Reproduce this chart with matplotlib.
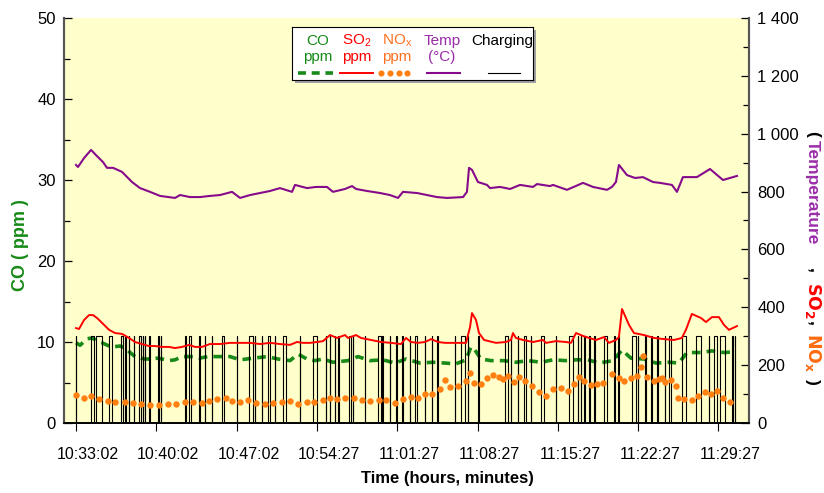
import numpy as np
import matplotlib.pyplot as plt
from matplotlib.patches import Rectangle
from matplotlib.transforms import ScaledTranslation
from matplotlib.ticker import MultipleLocator, FuncFormatter

plt.rcParams['font.family'] = ['Liberation Sans', 'DejaVu Sans']

# time axis in minutes from 10:33:02, one tick every 7 minutes
tick_labels = ['10:33:02', '10:40:02', '10:47:02', '10:54:27', '11:01:27',
               '11:08:27', '11:15:27', '11:22:27', '11:29:27']

# temperature (deg C, right axis)
temp_t = [0.00, 0.17, 0.70, 1.31, 1.74, 2.35, 2.70, 3.23, 4.01, 4.88, 5.58, 6.45, 7.32, 8.63, 9.07,
          9.94, 10.81, 11.68, 12.55, 13.60, 14.30, 15.17, 16.04, 16.91, 17.78, 18.83, 19.09, 20.14,
          20.92, 21.88, 22.40, 23.45, 24.06, 24.41, 25.37, 26.50, 27.37, 28.07, 28.50, 29.73, 30.60,
          31.47, 32.34, 33.74, 34.08, 34.26, 34.52, 35.04, 35.83, 36.09, 36.96, 37.84, 38.71, 39.84,
          40.19, 41.32, 41.58, 42.80, 44.20, 45.07, 46.29, 46.72, 47.07, 47.33, 48.03, 48.73, 49.42,
          50.30, 50.91, 51.95, 52.39, 52.91, 54.13, 55.27, 56.40, 57.01, 57.62]
temp_c = [892, 885, 916, 944, 926, 902, 882, 882, 868, 833, 812, 799, 785, 778, 788, 781, 781, 785,
          788, 799, 778, 788, 795, 802, 812, 799, 823, 812, 816, 816, 799, 809, 819, 809, 802, 795,
          788, 778, 799, 795, 788, 781, 778, 781, 799, 882, 875, 833, 823, 812, 816, 809, 823, 816,
          826, 819, 823, 806, 830, 816, 806, 816, 833, 892, 857, 847, 850, 833, 830, 823, 799, 850,
          850, 878, 840, 847, 854]

# SO2 (ppm, right axis)
so2_t = [0.00, 0.26, 0.70, 1.13, 1.48, 1.83, 2.27, 2.88, 3.40, 4.01, 4.62, 5.14, 5.75, 6.36, 6.89,
         7.50, 8.11, 8.63, 9.24, 9.85, 10.37, 10.98, 11.68, 12.55, 13.42, 14.30, 15.17, 16.04, 16.91,
         17.78, 18.65, 19.26, 19.79, 20.40, 21.01, 21.53, 22.14, 22.75, 23.45, 23.71, 24.41, 24.84,
         25.72, 26.59, 27.46, 28.33, 28.77, 29.20, 29.81, 30.42, 30.95, 31.56, 32.17, 33.04, 34.00,
         34.35, 34.52, 34.87, 35.13, 35.57, 36.61, 37.48, 37.92, 38.09, 38.35, 38.97, 39.84, 40.71,
         40.97, 41.84, 42.71, 43.15, 43.59, 44.20, 44.72, 45.33, 46.03, 46.46, 47.07, 47.33, 47.60,
         48.21, 48.64, 49.52, 50.39, 51.26, 52.13, 52.82, 53.17, 53.69, 54.48, 54.92, 55.44, 56.05,
         56.49, 56.92, 57.62]
so2_ppm = [328, 325, 356, 373, 373, 363, 346, 322, 311, 308, 294, 280, 273, 266, 266, 263, 263, 259,
           263, 270, 263, 263, 273, 273, 277, 277, 277, 273, 277, 273, 270, 280, 277, 277, 280, 283,
           304, 294, 304, 294, 304, 294, 287, 280, 277, 273, 294, 280, 277, 280, 290, 280, 277, 277,
           277, 332, 380, 356, 311, 287, 277, 280, 287, 311, 294, 287, 280, 287, 277, 283, 280, 277,
           311, 301, 294, 287, 297, 277, 287, 297, 394, 339, 311, 304, 294, 290, 287, 294, 322, 377,
           363, 349, 366, 366, 339, 322, 335]

# CO (ppm, left axis)
co_t = [0.00, 0.35, 0.96, 1.39, 2.00, 2.27, 2.88, 3.14, 3.84, 4.27, 4.71, 5.14, 5.93, 6.36, 7.06,
        7.50, 8.11, 8.63, 9.24, 9.94, 10.72, 11.51, 12.38, 13.42, 14.30, 15.43, 16.65, 17.61, 18.65,
        19.35, 20.14, 20.83, 21.53, 22.40, 23.71, 24.58, 25.63, 26.76, 27.81, 28.77, 29.99, 31.12,
        32.17, 33.12, 34.00, 34.43, 34.78, 35.30, 36.18, 37.31, 38.35, 39.40, 40.53, 41.58, 42.71,
        43.59, 44.63, 45.59, 46.81, 47.60, 48.38, 49.52, 50.56, 51.69, 52.56, 53.26, 54.48, 55.44,
        56.49, 57.53]
co_ppm = [9.9, 9.6, 10.4, 10.5, 10.0, 9.9, 9.5, 9.4, 9.5, 9.3, 8.7, 8.2, 7.9, 7.9, 8.0, 7.9, 7.7,
          7.8, 8.2, 8.2, 8.0, 8.2, 8.2, 8.2, 7.8, 8.0, 8.2, 7.9, 7.7, 8.5, 7.9, 7.7, 7.9, 7.5, 7.7,
          8.2, 7.7, 7.8, 7.4, 7.9, 7.4, 7.5, 7.4, 7.3, 7.8, 9.4, 9.0, 7.9, 7.7, 7.7, 7.5, 7.7, 7.5,
          7.8, 7.7, 7.8, 7.8, 7.4, 7.7, 9.0, 8.0, 7.9, 7.4, 7.5, 7.4, 8.7, 8.7, 8.9, 8.7, 8.8]

# NOx (ppm, right axis)
nox_t = [0.00, 0.70, 1.31, 2.00, 2.79, 3.40, 4.27, 4.97, 5.67, 6.45, 7.24, 8.02, 8.72, 9.50, 10.20,
         10.98, 11.59, 12.29, 13.08, 13.60, 14.30, 14.99, 15.69, 16.48, 17.17, 17.96, 18.65, 19.35,
         20.14, 20.75, 21.53, 22.14, 22.75, 23.45, 24.23, 24.93, 25.63, 26.41, 27.02, 27.81, 28.50,
         29.20, 29.81, 30.42, 31.03, 31.73, 32.17, 32.60, 33.30, 34.00, 34.35, 34.69, 35.30, 35.83,
         36.35, 36.87, 37.22, 37.66, 38.18, 38.62, 39.14, 39.75, 40.36, 40.97, 41.58, 42.28, 42.89,
         43.41, 43.85, 44.28, 44.89, 45.42, 45.94, 46.72, 47.33, 47.77, 48.38, 48.90, 49.25, 49.42,
         49.77, 50.39, 50.82, 51.08, 51.34, 51.87, 52.30, 52.48, 53.00, 53.69, 54.22, 54.83, 55.35,
         55.88, 56.40, 57.01]
nox_ppm = [97, 86, 93, 83, 76, 73, 73, 69, 66, 62, 62, 66, 66, 73, 73, 69, 76, 83, 86, 76, 73, 80,
           69, 66, 69, 73, 76, 66, 73, 73, 80, 86, 83, 86, 86, 80, 76, 80, 80, 69, 83, 90, 86, 100,
           100, 118, 149, 124, 128, 145, 173, 138, 135, 156, 166, 159, 152, 162, 142, 159, 145, 128,
           107, 93, 118, 121, 111, 135, 159, 145, 131, 135, 138, 169, 156, 145, 156, 162, 194, 232,
           159, 145, 152, 156, 142, 149, 128, 86, 83, 80, 93, 107, 100, 111, 86, 73]

# charging signal: pulses on/off (minutes), high level on right axis
chg_on = [0.00, 1.33, 1.77, 2.85, 3.95, 4.30, 4.59, 5.03, 5.52, 5.81, 5.99, 6.39, 7.12, 7.41, 9.53,
          9.82, 10.75, 11.25, 11.83, 12.70, 14.01, 15.11, 15.60, 16.19, 16.76, 17.35, 18.07, 19.53,
          20.69, 21.79, 22.14, 22.58, 22.87, 23.80, 24.15, 25.17, 26.33, 26.70, 27.35, 27.92, 28.44,
          29.09, 29.53, 30.40, 31.03, 31.49, 33.01, 33.59, 34.17, 35.02, 37.42, 37.92, 38.50, 39.08,
          39.66, 40.53, 41.84, 43.00, 43.73, 44.02, 44.31, 44.74, 45.18, 46.00, 46.92, 47.25, 48.49,
          48.99, 49.57, 50.15, 50.67, 51.32, 51.69, 52.85, 54.02, 55.18, 55.61, 56.14, 57.21, 57.42]
chg_off = [0.03, 1.60, 2.27, 3.14, 4.10, 4.33, 4.63, 5.06, 5.62, 5.85, 6.02, 6.42, 7.21, 7.44, 9.56,
           10.05, 10.78, 11.28, 11.86, 12.93, 14.04, 15.40, 15.64, 16.22, 16.91, 17.38, 18.31, 19.56,
           20.98, 21.82, 22.17, 22.61, 22.90, 24.00, 24.18, 25.20, 26.56, 26.73, 27.38, 27.95, 28.47,
           29.12, 29.70, 30.43, 31.06, 31.52, 33.04, 33.88, 34.20, 35.16, 37.63, 37.95, 38.53, 39.23,
           39.69, 40.82, 41.87, 43.30, 43.76, 44.05, 44.34, 44.77, 45.21, 46.26, 46.95, 47.33, 48.79,
           49.02, 49.66, 50.18, 50.70, 51.35, 51.89, 53.15, 54.51, 55.21, 55.90, 56.55, 57.24, 57.45]
chg_high = 300

GREEN = '#178a17'
RED = '#ff0000'
ORANGE = '#ff8010'
PURPLE = '#860a8c'
PURPLE_TXT = '#9a2ca8'

W, H = 824, 493
fig = plt.figure(figsize=(W / 100, H / 100), dpi=100)
ax = fig.add_axes([64 / W, 1 - 423 / H, (749 - 64) / W, (423 - 18) / H])
ax.set_facecolor('#ffffcc')
ax2 = ax.twinx()

# charging square wave
cx, cy = [], []
for on, off in zip(chg_on, chg_off):
    cx += [on, on, off, off]
    cy += [0, chg_high, chg_high, 0]
ax2.plot(cx, cy, color='black', lw=0.8, zorder=1)

ax.plot(co_t, co_ppm, color=GREEN, lw=2.6, dashes=(2.4, 1.7), zorder=3)
ax2.plot(so2_t, so2_ppm, color=RED, lw=1.4, zorder=3)
ax2.plot(nox_t, nox_ppm, ls='', marker='o', ms=4.6, color=ORANGE, mec='none', zorder=4)
ax2.plot(temp_t, temp_c, color=PURPLE, lw=1.5, zorder=3)

ax.set_xlim(-1.05, 58.67)
ax.set_ylim(0, 50)
ax2.set_ylim(0, 1400)
ax.set_xticks(np.arange(0, 57, 7))
ax.set_xticklabels(tick_labels)
ax.yaxis.set_major_locator(MultipleLocator(10))
ax.yaxis.set_minor_locator(MultipleLocator(5))
ax2.yaxis.set_major_locator(MultipleLocator(200))
ax2.yaxis.set_minor_locator(MultipleLocator(100))
ax2.yaxis.set_major_formatter(FuncFormatter(lambda v, p: f'{int(v):,}'.replace(',', ' ')))

ax.tick_params(axis='x', direction='out', length=6, width=0.8, pad=11, labelsize=11.5)
ax.tick_params(axis='y', which='major', direction='in', length=6, width=0.9, pad=6, labelsize=12)
ax.tick_params(axis='y', which='minor', direction='in', length=4, width=0.9)
ax2.tick_params(axis='y', which='major', direction='in', length=6, width=0.9, pad=6, labelsize=12)
ax2.tick_params(axis='y', which='minor', direction='in', length=4, width=0.9)

for a in (ax, ax2):
    a.spines['top'].set_visible(False)
    a.spines['left'].set_color('#555555')
    a.spines['right'].set_color('#555555')
    a.spines['left'].set_linewidth(1.5)
    a.spines['right'].set_linewidth(1.5)
    a.spines['bottom'].set_linewidth(1.2)

for lbl in ax.get_xticklabels():
    lbl.set_transform(lbl.get_transform() + ScaledTranslation(12 / 100, 0, fig.dpi_scale_trans))

fig.text(447 / W, 1 - 479 / H, 'Time (hours, minutes)', ha='center', va='center',
         fontsize=12, fontweight='bold')
fig.text(21 / W, 1 - 245 / H, 'CO ( ppm )', ha='center', va='center', rotation=90,
         fontsize=13, fontweight='bold', color=GREEN)

# legend box with shadow
shadow = Rectangle((295 / W, 1 - 83 / H), 241 / W, 53 / H, transform=fig.transFigure,
                   facecolor='#a0a0a0', edgecolor='none', zorder=4)
fig.add_artist(shadow)
lax = fig.add_axes([292 / W, 1 - 80 / H, 241 / W, 53 / H])
lax.set_zorder(5)
lax.set_xlim(292, 533)
lax.set_ylim(80, 27)
lax.set_xticks([])
lax.set_yticks([])
for s in lax.spines.values():
    s.set_linewidth(0.8)
    s.set_color('black')
lax.set_facecolor('white')

leg_font = dict(fontsize=11, ha='center', va='center')
lax.text(318, 41, 'CO', color=GREEN, **leg_font)
lax.text(318, 57, 'ppm', color=GREEN, **leg_font)
lax.plot([298, 333], [73, 73], color=GREEN, lw=2.6, dashes=(2.2, 1.6))
lax.text(357, 41, r'$\mathregular{SO_2}$', color=RED, **leg_font)
lax.text(357, 57, 'ppm', color=RED, **leg_font)
lax.plot([340, 373], [73, 73], color=RED, lw=1.4)
lax.text(397, 41, r'$\mathregular{NO_x}$', color='#ff7020', **leg_font)
lax.text(397, 57, 'ppm', color='#ff7020', **leg_font)
lax.plot([381, 390, 398.5, 407], [73, 73, 73, 73], ls='', marker='o', ms=4.4, color=ORANGE, mec='none')
lax.text(442, 41, 'Temp', color=PURPLE_TXT, **leg_font)
lax.text(442, 57, '(°C)', color=PURPLE_TXT, **leg_font)
lax.plot([427, 460], [73, 73], color=PURPLE, lw=1.5)
lax.text(502, 41, 'Charging', color='black', **leg_font)
lax.plot([488, 520], [73, 73], color='black', lw=0.8)

# right axis label built from coloured pieces, reading downward
pieces = [('(', 'black', 0), ('Temperature', PURPLE_TXT, 3), (',', 'black', 24),
          (r'$\mathbf{SO_2}$', RED, 9), (',', 'black', 2), (r'$\mathbf{NO_x}$', '#ff6a10', 7),
          (')', 'black', 7)]
fig.canvas.draw()
renderer = fig.canvas.get_renderer()
ypos = 493 - 131
for txt, col, gap in pieces:
    ypos -= gap
    t = fig.text(808 / W, ypos / H, txt, color=col, rotation=-90, rotation_mode='anchor',
                 ha='left', va='baseline', fontsize=12.5, fontweight='bold')
    bb = t.get_window_extent(renderer)
    ypos = bb.y0

fig.savefig('out.png', dpi=100)
